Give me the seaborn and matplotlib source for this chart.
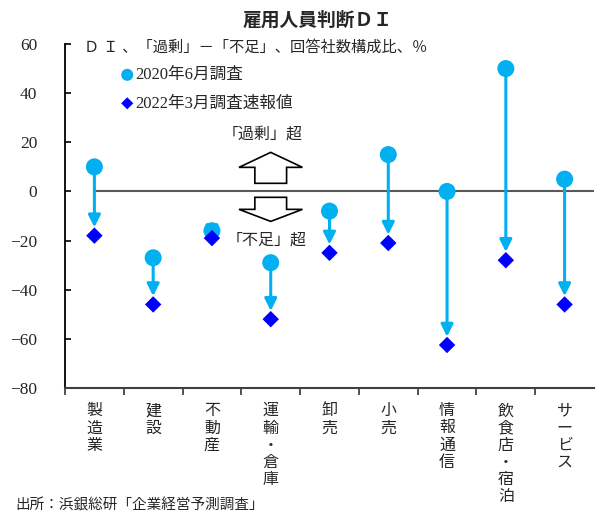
import numpy as np
import pandas as pd
import matplotlib
matplotlib.use('Agg')
import matplotlib.pyplot as plt
from matplotlib.patches import FancyArrow
from matplotlib.ticker import FixedLocator
import seaborn as sns

# data
categories = ['製造業', '建設', '不動産', '運輸・倉庫', '卸売', '小売', '情報通信', '飲食店・宿泊', 'サービス']
di_2020_jun = [10, -27, -16, -29, -8, 15, 0, 50, 5]
di_2022_mar = [-18, -46, -19, -52, -25, -21, -62.5, -28, -46]
label_2020 = '2020年6月調査'
label_2022 = '2022年3月調査速報値'
y_ticks = [-80, -60, -40, -20, 0, 20, 40, 60]

LIGHT = '#00B0F0'
DARK = '#0000FF'

sns.set_theme(style='white')
plt.rcParams['font.family'] = ['serif', 'Noto Sans CJK JP']
plt.rcParams['font.serif'] = ['Liberation Serif', 'DejaVu Serif']

df = pd.DataFrame({'業種': categories, 'jun2020': di_2020_jun, 'mar2022': di_2022_mar})

fig = plt.figure(figsize=(5.98, 5.16), dpi=100)
ax = fig.add_axes([65 / 598, 1 - 388 / 516, 529 / 598, 344 / 516])

# arrows from 2020 to 2022
for i, row in df.iterrows():
    ax.annotate('', xy=(i, row['mar2022']), xytext=(i, row['jun2020']),
                arrowprops=dict(arrowstyle='-|>,head_length=0.6,head_width=0.3',
                                color=LIGHT, lw=2.2, shrinkA=0, shrinkB=6),
                zorder=2)

sns.scatterplot(data=df, x='業種', y='jun2020', ax=ax, color=LIGHT, marker='o',
                s=150, edgecolor='none', label=label_2020, zorder=3)
sns.scatterplot(data=df, x='業種', y='mar2022', ax=ax, color=DARK, marker='D',
                s=70, edgecolor='none', label=label_2022, zorder=3)

ax.axhline(0, xmin=0.5 / len(categories), color='#595959', lw=1.5, zorder=1)

# outlined direction arrows
ax.add_patch(FancyArrow(3, 3.3, 0, 12.6, width=0.54, head_width=1.08, head_length=6.1,
                        length_includes_head=True, fc='white', ec='black', lw=1.2, zorder=2))
ax.add_patch(FancyArrow(3, -2.4, 0, -9.8, width=0.54, head_width=1.08, head_length=4.9,
                        length_includes_head=True, fc='white', ec='black', lw=1.2, zorder=2))
ax.text(2.86, 23, '「過剰」超', fontsize=11.5, ha='center', va='center')
ax.text(2.93, -20, '「不足」超', fontsize=11.5, ha='center', va='center')

ax.set_xlim(-0.5, len(categories) - 0.5)
ax.set_ylim(-80, 60)
ax.set_yticks(y_ticks)
ax.set_yticklabels([str(t).replace('-', '−') for t in y_ticks], fontsize=12.5)
ax.set_xticks(range(len(categories)))
ax.set_xticklabels(['\n'.join(c) for c in categories], fontsize=11.5, linespacing=1.1, va='top')
ax.xaxis.set_minor_locator(FixedLocator(np.arange(-0.5, len(categories) - 0.5, 1)))
ax.tick_params(axis='x', which='major', length=0, pad=11)
ax.tick_params(axis='x', which='minor', length=5, width=1.2, color='#333333', direction='out', bottom=True)
ax.tick_params(axis='y', direction='in', length=4, width=1.2, color='black', pad=20, left=True)
ax.set_xlabel('')
ax.set_ylabel('')

for s in ['top', 'right']:
    ax.spines[s].set_visible(False)
ax.spines['left'].set_color('black')
ax.spines['left'].set_linewidth(1.3)
ax.spines['bottom'].set_color('#404040')
ax.spines['bottom'].set_linewidth(1.5)

ax.text(0.036, 0.991, 'Ｄ Ｉ 、「過剰」－「不足」、回答社数構成比、％', transform=ax.transAxes,
        fontsize=11, ha='left', va='center')

leg = ax.legend(loc='upper left', bbox_to_anchor=(0.094, 0.952), frameon=False, fontsize=12,
                handlelength=0.7, handletextpad=0.15, labelspacing=0.75, borderaxespad=0)
leg.legend_handles[0].set_sizes([75])
leg.legend_handles[1].set_sizes([38])

fig.text(318 / 598, 1 - 20 / 516, '雇用人員判断ＤＩ', fontsize=13.5, fontweight='bold',
         family='Noto Sans CJK JP', ha='center', va='center')
fig.text(15 / 598, 1 - 505 / 516, '出所：浜銀総研「企業経営予測調査」', fontsize=10.5,
         ha='left', va='center')

fig.savefig('out.png', dpi=100)
